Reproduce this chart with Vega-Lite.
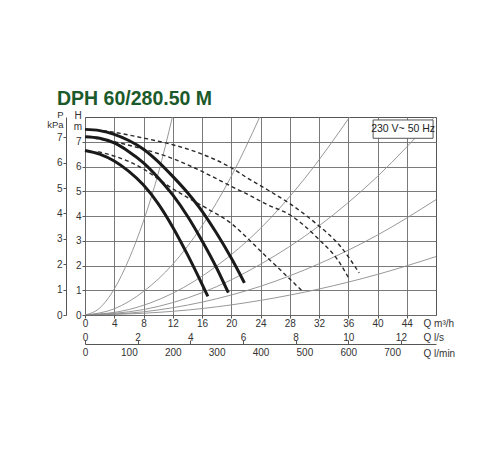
{
  "$schema": "https://vega.github.io/schema/vega-lite/v6.json",
  "width": 351,
  "height": 198,
  "autosize": {"type": "none"},
  "padding": {"left": 85, "top": 117, "right": 64, "bottom": 135},
  "background": "white",
  "title": {
    "text": "DPH 60/280.50 M",
    "anchor": "start",
    "frame": "group",
    "font": "Liberation Sans",
    "fontSize": 19.5,
    "fontWeight": "bold",
    "color": "#1b5a2a",
    "dx": -28,
    "offset": 0
  },
  "datasets": {
    "system": [
      {"curve": "s1", "q": 0, "h": 0}, {"curve": "s1", "q": 2, "h": 0.28}, {"curve": "s1", "q": 4, "h": 1.05},
      {"curve": "s1", "q": 6, "h": 2.25}, {"curve": "s1", "q": 8, "h": 3.8}, {"curve": "s1", "q": 10, "h": 5.7},
      {"curve": "s1", "q": 11.95, "h": 8},
      {"curve": "s2", "q": 0, "h": 0}, {"curve": "s2", "q": 4, "h": 0.25}, {"curve": "s2", "q": 8, "h": 0.95},
      {"curve": "s2", "q": 12, "h": 2.05}, {"curve": "s2", "q": 16, "h": 3.6}, {"curve": "s2", "q": 20, "h": 5.6},
      {"curve": "s2", "q": 23.9, "h": 8},
      {"curve": "s3", "q": 0, "h": 0}, {"curve": "s3", "q": 6, "h": 0.22}, {"curve": "s3", "q": 12, "h": 0.88},
      {"curve": "s3", "q": 18, "h": 1.98}, {"curve": "s3", "q": 24, "h": 3.5}, {"curve": "s3", "q": 30, "h": 5.5},
      {"curve": "s3", "q": 36.2, "h": 8},
      {"curve": "s4", "q": 0, "h": 0}, {"curve": "s4", "q": 8, "h": 0.22}, {"curve": "s4", "q": 16, "h": 0.9},
      {"curve": "s4", "q": 24, "h": 2.05}, {"curve": "s4", "q": 32, "h": 3.6}, {"curve": "s4", "q": 40, "h": 5.6},
      {"curve": "s4", "q": 47.8, "h": 8},
      {"curve": "s5", "q": 0, "h": 0}, {"curve": "s5", "q": 8, "h": 0.13}, {"curve": "s5", "q": 16, "h": 0.52},
      {"curve": "s5", "q": 24, "h": 1.16}, {"curve": "s5", "q": 32, "h": 2.07}, {"curve": "s5", "q": 40, "h": 3.23},
      {"curve": "s5", "q": 48, "h": 4.66},
      {"curve": "s6", "q": 0, "h": 0}, {"curve": "s6", "q": 8, "h": 0.07}, {"curve": "s6", "q": 16, "h": 0.26},
      {"curve": "s6", "q": 24, "h": 0.59}, {"curve": "s6", "q": 32, "h": 1.05}, {"curve": "s6", "q": 40, "h": 1.64},
      {"curve": "s6", "q": 48, "h": 2.36}
    ],
    "solid": [
      {"curve": "a", "q": 0, "h": 7.5}, {"curve": "a", "q": 2, "h": 7.45}, {"curve": "a", "q": 4, "h": 7.3},
      {"curve": "a", "q": 6, "h": 7.05}, {"curve": "a", "q": 8, "h": 6.7}, {"curve": "a", "q": 10, "h": 6.2},
      {"curve": "a", "q": 12, "h": 5.6}, {"curve": "a", "q": 14, "h": 4.95}, {"curve": "a", "q": 16, "h": 4.2},
      {"curve": "a", "q": 18, "h": 3.3}, {"curve": "a", "q": 20, "h": 2.3}, {"curve": "a", "q": 21.8, "h": 1.3},
      {"curve": "b", "q": 0, "h": 7.2}, {"curve": "b", "q": 2, "h": 7.14}, {"curve": "b", "q": 4, "h": 6.95},
      {"curve": "b", "q": 6, "h": 6.6}, {"curve": "b", "q": 8, "h": 6.15}, {"curve": "b", "q": 10, "h": 5.55},
      {"curve": "b", "q": 12, "h": 4.85}, {"curve": "b", "q": 14, "h": 4.0}, {"curve": "b", "q": 16, "h": 3.0},
      {"curve": "b", "q": 18, "h": 1.9}, {"curve": "b", "q": 19.6, "h": 0.9},
      {"curve": "c", "q": 0, "h": 6.65}, {"curve": "c", "q": 2, "h": 6.5}, {"curve": "c", "q": 4, "h": 6.22},
      {"curve": "c", "q": 6, "h": 5.8}, {"curve": "c", "q": 8, "h": 5.25}, {"curve": "c", "q": 10, "h": 4.5},
      {"curve": "c", "q": 12, "h": 3.55}, {"curve": "c", "q": 14, "h": 2.45}, {"curve": "c", "q": 16, "h": 1.25},
      {"curve": "c", "q": 16.8, "h": 0.75}
    ],
    "dashed": [
      {"curve": "d1", "q": 1.5, "h": 7.48}, {"curve": "d1", "q": 4, "h": 7.38}, {"curve": "d1", "q": 8, "h": 7.15},
      {"curve": "d1", "q": 12, "h": 6.88}, {"curve": "d1", "q": 16, "h": 6.5}, {"curve": "d1", "q": 20, "h": 5.95},
      {"curve": "d1", "q": 22.4, "h": 5.5}, {"curve": "d1", "q": 25, "h": 5.05}, {"curve": "d1", "q": 28, "h": 4.5},
      {"curve": "d1", "q": 31.5, "h": 3.72}, {"curve": "d1", "q": 35, "h": 2.75}, {"curve": "d1", "q": 37.5, "h": 1.7},
      {"curve": "d2", "q": 1.2, "h": 7.15}, {"curve": "d2", "q": 4, "h": 7.0}, {"curve": "d2", "q": 8, "h": 6.7},
      {"curve": "d2", "q": 12, "h": 6.32}, {"curve": "d2", "q": 16, "h": 5.8}, {"curve": "d2", "q": 20, "h": 5.2},
      {"curve": "d2", "q": 22.4, "h": 4.85}, {"curve": "d2", "q": 25, "h": 4.45}, {"curve": "d2", "q": 28, "h": 4.05},
      {"curve": "d2", "q": 32, "h": 3.05}, {"curve": "d2", "q": 34.5, "h": 2.25}, {"curve": "d2", "q": 36.2, "h": 1.42},
      {"curve": "d3", "q": 1.8, "h": 6.6}, {"curve": "d3", "q": 4, "h": 6.42}, {"curve": "d3", "q": 6, "h": 6.2},
      {"curve": "d3", "q": 8, "h": 5.9}, {"curve": "d3", "q": 10, "h": 5.5}, {"curve": "d3", "q": 12, "h": 5.1},
      {"curve": "d3", "q": 14, "h": 4.75}, {"curve": "d3", "q": 17, "h": 4.25}, {"curve": "d3", "q": 20, "h": 3.7},
      {"curve": "d3", "q": 22.4, "h": 3.05}, {"curve": "d3", "q": 25, "h": 2.3}, {"curve": "d3", "q": 27.5, "h": 1.6},
      {"curve": "d3", "q": 29.8, "h": 0.94}
    ],
    "label": [
      {"text": "230 V~ 50 Hz", "q0": 39.4, "q1": 47.6, "h0": 7.14, "h1": 7.88, "qm": 43.5, "hm": 7.51}
    ]
  },
  "layer": [
    {
      "data": {"name": "system"},
      "mark": {"type": "line", "color": "#8c8c8c", "strokeWidth": 0.9, "interpolate": "monotone", "clip": true},
      "encoding": {
        "x": {
          "field": "q", "type": "quantitative",
          "scale": {"domain": [0, 48], "nice": false, "zero": false},
          "axis": {
            "orient": "bottom", "offset": 0,
            "values": [0, 4, 8, 12, 16, 20, 24, 28, 32, 36, 40, 44],
            "grid": true, "domain": false, "tickSize": 3, "labelPadding": 0,
            "title": "Q m³/h", "titleAlign": "left", "titleBaseline": "middle",
            "titleX": 338, "titleY": 8
          }
        },
        "y": {
          "field": "h", "type": "quantitative",
          "scale": {"domain": [0, 8], "nice": false, "zero": false},
          "axis": {
            "orient": "left", "offset": 0,
            "values": [0, 1, 2, 3, 4, 5, 6, 7],
            "grid": true, "domain": false, "tickSize": 3, "labelPadding": 1,
            "title": ["H", "m"], "titleAngle": 0, "titleAlign": "center", "titleBaseline": "top",
            "titleLineHeight": 11, "titleX": -7.5, "titleY": -7
          }
        },
        "detail": {"field": "curve"}
      }
    },
    {
      "data": {"name": "dashed"},
      "mark": {"type": "line", "color": "#2a2a2a", "strokeWidth": 1.4, "strokeDash": [4, 3], "interpolate": "monotone"},
      "encoding": {
        "x": {
          "field": "q", "type": "quantitative",
          "axis": {
            "orient": "bottom", "offset": 17,
            "values": [0, 7.2, 14.4, 21.6, 28.8, 36, 43.2],
            "labelExpr": "'' + round(datum.value / 3.6)",
            "ticks": false, "domain": false, "labelPadding": 0,
            "title": "Q l/s", "titleAlign": "left", "titleBaseline": "middle",
            "titleX": 338, "titleY": 5
          }
        },
        "y": {
          "field": "h", "type": "quantitative",
          "axis": {
            "orient": "left", "offset": 19,
            "values": [0, 1.0256, 2.0512, 3.0768, 4.1024, 5.128, 6.1536, 7.1792],
            "labelExpr": "'' + round(datum.value / 1.0256)",
            "domain": true, "tickSize": 3, "labelPadding": 1,
            "title": ["P", "kPa"], "titleAngle": 0, "titleAlign": "right", "titleBaseline": "top",
            "titleFontSize": 9.5, "titleLineHeight": 10.5, "titleX": -3, "titleY": -8
          }
        },
        "detail": {"field": "curve"}
      }
    },
    {
      "data": {"name": "solid"},
      "mark": {"type": "line", "color": "#1a1a1a", "strokeWidth": 3, "interpolate": "monotone"},
      "encoding": {
        "x": {
          "field": "q", "type": "quantitative",
          "axis": {
            "orient": "bottom", "offset": 25,
            "values": [0, 7.2, 14.4, 21.6, 28.8, 36, 43.2],
            "labels": false, "domain": false, "tickSize": 4, "title": null
          }
        },
        "y": {"field": "h", "type": "quantitative", "axis": null},
        "detail": {"field": "curve"}
      }
    },
    {
      "data": {"name": "label"},
      "mark": {"type": "rect", "fill": "white", "stroke": "#555", "strokeWidth": 1},
      "encoding": {
        "x": {
          "field": "q0", "type": "quantitative",
          "axis": {
            "orient": "bottom", "offset": 29,
            "values": [0, 6, 12, 18, 24, 30, 36, 42],
            "labelExpr": "'' + round(datum.value / 0.06)",
            "ticks": false, "domain": true, "labelPadding": 3,
            "title": "Q l/min", "titleAlign": "left", "titleBaseline": "middle",
            "titleX": 338, "titleY": 9
          }
        },
        "x2": {"field": "q1"},
        "y": {"field": "h0", "type": "quantitative", "axis": null},
        "y2": {"field": "h1"}
      }
    },
    {
      "data": {"name": "label"},
      "mark": {"type": "text", "font": "Liberation Sans", "fontSize": 10.5, "color": "#222", "align": "center", "baseline": "middle"},
      "encoding": {
        "x": {"field": "qm", "type": "quantitative", "axis": null},
        "y": {"field": "hm", "type": "quantitative", "axis": null},
        "text": {"field": "text"}
      }
    }
  ],
  "resolve": {"axis": {"x": "independent", "y": "independent"}},
  "config": {
    "view": {"stroke": "#555", "strokeWidth": 1},
    "axis": {
      "labelFont": "Liberation Sans",
      "labelFontSize": 10,
      "labelColor": "#333",
      "titleFont": "Liberation Sans",
      "titleFontSize": 10,
      "titleFontWeight": "normal",
      "titleColor": "#333",
      "tickColor": "#555",
      "domainColor": "#555",
      "gridColor": "#6b6b6b",
      "gridWidth": 0.9,
      "grid": false,
      "labelFlush": false
    }
  }
}
